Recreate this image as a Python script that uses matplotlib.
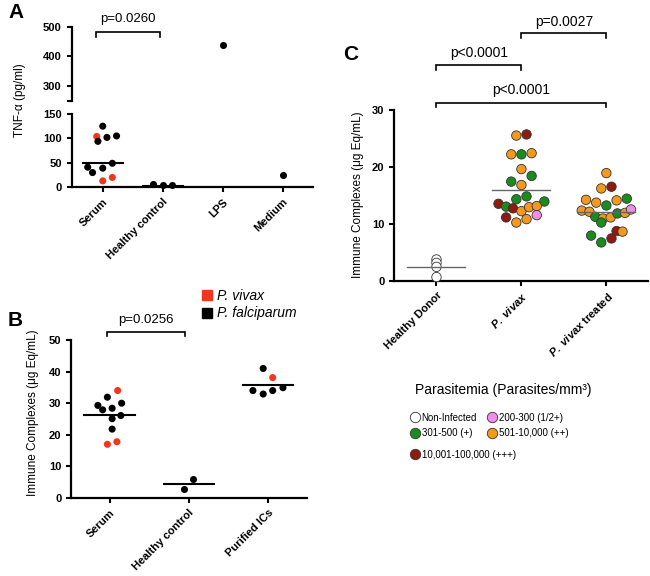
import matplotlib
matplotlib.use("Agg")
import matplotlib.pyplot as plt
from matplotlib.lines import Line2D
import numpy as np

plt.rcParams["font.family"] = ["Liberation Sans", "DejaVu Sans"]
plt.rcParams["mathtext.fontset"] = "custom"
plt.rcParams["mathtext.it"] = "Liberation Sans:italic:bold"
plt.rcParams["mathtext.rm"] = "Liberation Sans:bold"

# ---- panel A: TNF-alpha (pg/ml) ----
a_groups = ["Serum", "Healthy control", "LPS", "Medium"]
a_serum = [104, 125, 94, 102, 105, 49, 41, 30, 39, 13, 20]
a_serum_sp = ["v", "f", "f", "f", "f", "f", "f", "f", "f", "v", "v"]
a_serum_dx = [-0.10, 0, -0.08, 0.07, 0.23, 0.16, -0.25, -0.17, 0, 0, 0.16]
a_healthy = [7, 4, 5]
a_healthy_dx = [-0.17, 0, 0.16]
a_lps = [438]
a_medium = [26]
a_medians = [49, 3]          # Serum, Healthy control

# ---- panel B: immune complexes ----
b_groups = ["Serum", "Healthy control", "Purified ICs"]
b_serum = [34, 31.9, 29.3, 27.9, 28.4, 30, 26.1, 25.1, 21.8, 17, 17.8]
b_serum_sp = ["v", "f", "f", "f", "f", "f", "f", "f", "f", "v", "v"]
b_serum_dx = [0.10, -0.03, -0.15, -0.09, 0.03, 0.15, 0.14, 0.03, 0.03, -0.03, 0.09]
b_healthy = [5.9, 2.8]
b_healthy_dx = [0.05, -0.06]
b_purified = [41, 38.1, 34, 32.9, 34, 34.9]
b_purified_sp = ["f", "v", "f", "f", "f", "f"]
b_purified_dx = [-0.06, 0.06, -0.19, -0.06, 0.06, 0.19]
b_medians = [26.3, 4.3, 35.8]

# ---- panel C: immune complexes by parasitemia ----
c_groups = ["Healthy Donor", r"$\it{P.\ vivax}$", r"$\it{P.\ vivax}$ treated"]
c_hd = [3.7, 3.1, 2.4, 0.6]
c_hd_cls = ["n", "n", "n", "n"]
c_hd_dx = [0, 0, 0, 0]
c_vivax = [25.5, 25.7, 22.2, 22.2, 22.4, 19.6, 18.4, 17.4, 16.8, 14.8, 14.3,
           13.9, 13.5, 13.0, 12.7, 12.2, 12.9, 13.1, 11.5, 11.1, 10.2, 10.8]
c_vivax_cls = ["o", "r", "o", "g", "o", "o", "g", "g", "o", "g", "g",
               "g", "r", "g", "r", "o", "o", "o", "p", "r", "o", "o"]
c_vivax_dx = [-0.06, 0.06, -0.12, 0, 0.12, 0, 0.12, -0.12, 0, 0.06, -0.06,
              0.27, -0.27, -0.18, -0.10, 0, 0.09, 0.18, 0.18, -0.18, -0.06, 0.06]
c_treated = [18.9, 16.2, 16.5, 14.2, 13.7, 13.2, 14.1, 14.4, 12.3, 12.1, 11.2,
             10.9, 11.1, 11.8, 11.9, 12.5, 10.2, 8.7, 8.6, 7.9, 7.4, 6.7]
c_treated_cls = ["o", "o", "r", "o", "o", "g", "o", "g", "o", "o", "g",
                 "o", "o", "g", "o", "p", "g", "r", "o", "g", "r", "g"]
c_treated_dx = [0, -0.06, 0.06, -0.24, -0.12, 0, 0.12, 0.24, -0.29, -0.20, -0.13,
                -0.04, 0.05, 0.13, 0.22, 0.29, -0.06, 0.12, 0.19, -0.18, 0.06, -0.06]
c_medians = [2.3, 16.0, 12.1]

para_keys = ["n", "p", "g", "o", "r"]
para_labels = ["Non-Infected", "200-300 (1/2+)", "301-500 (+)",
               "501-10,000 (++)", "10,001-100,000 (+++)"]
para_colors = {"n": "white", "p": "#F28BEA", "g": "#1A8C1E",
               "o": "#F39A1E", "r": "#8E1A10"}
sp_colors = {"v": "#F2361E", "f": "black"}

W, H = 650, 576
fig = plt.figure(figsize=(W / 100, H / 100), dpi=100)


def rect(l, t, r, b):
    return [l / W, 1 - b / H, (r - l) / W, (b - t) / H]


def style(ax, bottom=True):
    for s in ["top", "right"]:
        ax.spines[s].set_visible(False)
    ax.spines["left"].set_linewidth(1.6)
    ax.spines["bottom"].set_linewidth(1.6)
    if not bottom:
        ax.spines["bottom"].set_visible(False)
    ax.tick_params(width=1.5, length=3.5, labelsize=8)
    for lab in ax.get_yticklabels():
        lab.set_fontweight("bold")
    ax.patch.set_alpha(0)


def bracket(ax, x0, x1, y, drop, text, ty, fs=9.5):
    ax.plot([x0, x0, x1, x1], [y - drop, y, y, y - drop], color="black",
            lw=1.2, clip_on=False, solid_joinstyle="miter")
    ax.text((x0 + x1) / 2, ty, text, ha="center", va="center", fontsize=fs,
            clip_on=False)


# ================= A =================
axA = fig.add_axes(rect(71.5, 114, 313, 187.2))
axA_up = fig.add_axes(rect(71.5, 26.7, 313, 100.8))
for ax in (axA, axA_up):
    ax.set_xlim(-0.52, 3.5)
axA.set_ylim(0, 150)
axA.set_yticks([0, 50, 100, 150])
axA_up.set_ylim(250, 500)
axA_up.set_yticks([250, 300, 400, 500])
axA_up.set_yticklabels(["", "300", "400", "500"])
axA_up.set_xticks([])

a_cols = [sp_colors[s] for s in a_serum_sp]
axA.scatter(np.zeros(len(a_serum)) + a_serum_dx, a_serum, s=26, c=a_cols,
            zorder=3, linewidths=0)
axA.scatter(np.ones(len(a_healthy)) + a_healthy_dx, a_healthy, s=26,
            c="black", zorder=3, linewidths=0, clip_on=False)
axA_up.scatter([2] * len(a_lps), a_lps, s=26, c="black", linewidths=0)
axA.scatter([3] * len(a_medium), a_medium, s=26, c="black", linewidths=0)
for i, m in enumerate(a_medians):
    axA.plot([i - 0.33, i + 0.33], [m, m], color="black", lw=1.5, zorder=2)
axA.set_xticks(range(len(a_groups)))
axA.set_xticklabels(a_groups, rotation=45, ha="right", rotation_mode="anchor",
                    fontweight="bold", fontsize=8)
style(axA)
style(axA_up, bottom=False)
bracket(axA_up, -0.12, 0.95, 482, 17, "p=0.0260", 526)
fig.text(20 / W, 1 - 100 / H, "TNF-α (pg/ml)", rotation=90, ha="center",
         va="center", fontsize=8.5)
fig.text(8 / W, 1 - 12 / H, "A", fontsize=15, fontweight="bold",
         ha="left", va="center")

# ================= B =================
axB = fig.add_axes(rect(71, 340, 306.7, 498))
axB.set_xlim(-0.49, 2.49)
axB.set_ylim(0, 50)
axB.set_yticks([0, 10, 20, 30, 40, 50])
axB.scatter(np.zeros(len(b_serum)) + b_serum_dx, b_serum, s=26,
            c=[sp_colors[s] for s in b_serum_sp], zorder=3, linewidths=0)
axB.scatter(np.ones(len(b_healthy)) + b_healthy_dx, b_healthy, s=26,
            c="black", zorder=3, linewidths=0)
axB.scatter(2 + np.array(b_purified_dx), b_purified, s=26,
            c=[sp_colors[s] for s in b_purified_sp], zorder=3, linewidths=0)
for i, m in enumerate(b_medians):
    axB.plot([i - 0.32, i + 0.32], [m, m], color="black", lw=1.5, zorder=2)
axB.set_xticks(range(len(b_groups)))
axB.set_xticklabels(b_groups, rotation=45, ha="right", rotation_mode="anchor",
                    fontweight="bold", fontsize=8)
style(axB)
bracket(axB, -0.03, 0.95, 52.6, 1.4, "p=0.0256", 56.3)
sp_handles = [Line2D([], [], marker="s", ls="", color=sp_colors["v"], ms=7.5),
              Line2D([], [], marker="s", ls="", color=sp_colors["f"], ms=7.5)]
fig.legend(sp_handles, ["P. vivax", "P. falciparum"], loc="upper left",
           bbox_to_anchor=(194 / W, 1 - 282 / H), frameon=False,
           prop=dict(style="italic", size=10), handlelength=0.8,
           handletextpad=0.35, labelspacing=0.25, borderpad=0)
fig.text(33 / W, 1 - 413 / H, "Immune Complexes (μg Eq/mL)", rotation=90,
         ha="center", va="center", fontsize=8.5)
fig.text(8 / W, 1 - 320 / H, "B", fontsize=15, fontweight="bold",
         ha="left", va="center")

# ================= C =================
axC = fig.add_axes(rect(394, 110, 648, 280.5))
axC.set_xlim(-0.50, 2.49)
axC.set_ylim(0, 30)
axC.set_yticks([0, 10, 20, 30])
for i, (vals, cls, dx) in enumerate([(c_hd, c_hd_cls, c_hd_dx),
                                     (c_vivax, c_vivax_cls, c_vivax_dx),
                                     (c_treated, c_treated_cls, c_treated_dx)]):
    axC.scatter(i + np.array(dx), vals, s=46,
                c=[para_colors[k] for k in cls], edgecolors="#333333",
                linewidths=0.6, zorder=3, clip_on=False)
for i, m in enumerate(c_medians):
    axC.plot([i - 0.35, i + 0.34], [m, m], color="#666666", lw=1.0, zorder=4)
axC.set_xticks(range(len(c_groups)))
axC.set_xticklabels(c_groups, rotation=45, ha="right", rotation_mode="anchor",
                    fontweight="bold", fontsize=8.5)
style(axC)
bracket(axC, 0, 1, 37.9, 0.9, "p<0.0001", 40.0, fs=10)
bracket(axC, 1, 2, 43.5, 0.9, "p=0.0027", 45.4, fs=10)
bracket(axC, 0, 2, 31.3, 0.8, "p<0.0001", 33.5, fs=10)
fig.text(358 / W, 1 - 195 / H, "Immune Complexes (μg Eq/mL)", rotation=90,
         ha="center", va="center", fontsize=8.5)
fig.text(343 / W, 1 - 55 / H, "C", fontsize=15, fontweight="bold",
         ha="left", va="center")

# parasitemia legend
fig.text(503 / W, 1 - 390 / H, "Parasitemia (Parasites/mm³)", ha="center",
         va="center", fontsize=10)


def para_handle(k):
    return Line2D([], [], marker="o", ls="", ms=7.5, markerfacecolor=para_colors[k],
                  markeredgecolor="#333333", markeredgewidth=0.6)


order = ["n", "g", "p", "o"]
fig.legend([para_handle(k) for k in order],
           [para_labels[para_keys.index(k)] for k in order], ncol=2,
           loc="upper left", bbox_to_anchor=(406 / W, 1 - 408 / H),
           frameon=False, fontsize=7, handlelength=0.8, handletextpad=0.3,
           labelspacing=0.55, columnspacing=1.2, borderpad=0)
fig.legend([para_handle("r")], [para_labels[4]], loc="upper left",
           bbox_to_anchor=(406 / W, 1 - 445 / H), frameon=False, fontsize=7,
           handlelength=0.8, handletextpad=0.3, borderpad=0)

fig.savefig("out.png", dpi=100)
